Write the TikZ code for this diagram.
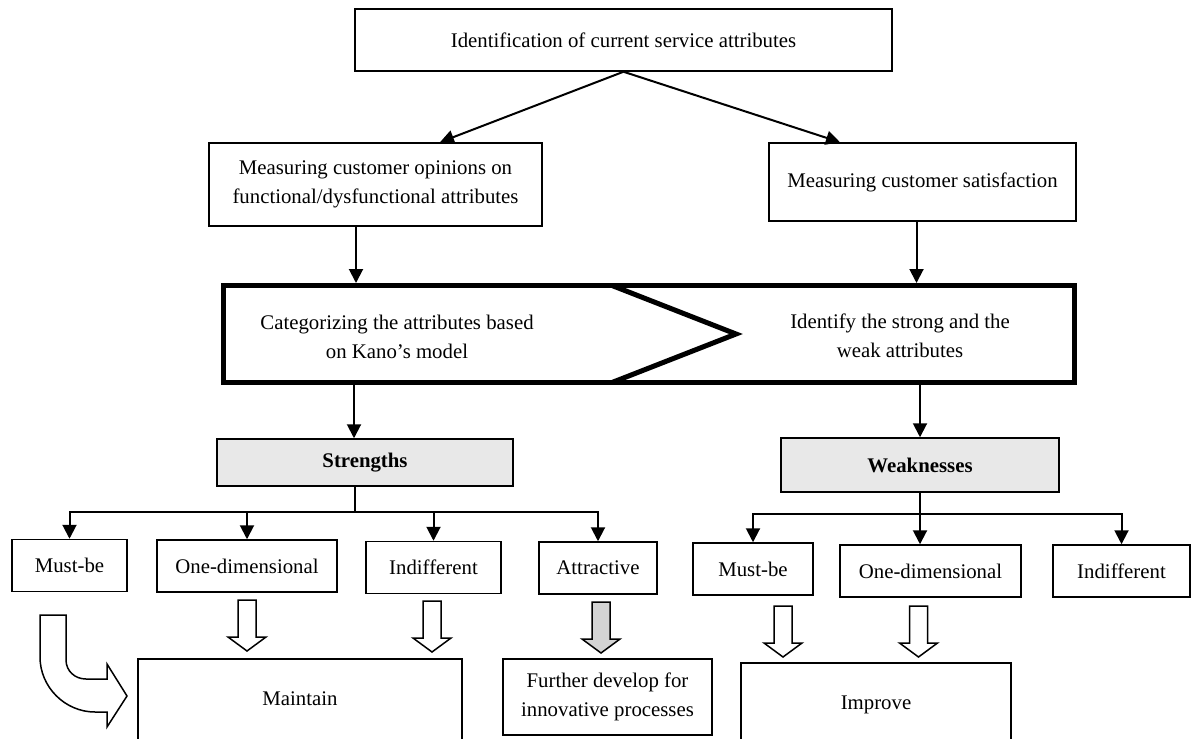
\documentclass[tikz,border=0pt]{standalone}
\usepackage{fontspec}
\setmainfont{Liberation Serif}
\usepackage{tikz}
\usetikzlibrary{arrows.meta,calc}
\definecolor{boxgray}{RGB}{232,232,232}
\definecolor{arrgray}{RGB}{212,212,212}

\begin{document}
\begin{tikzpicture}[x=0.5pt,y=-0.5pt,
  font=\fontsize{10.4}{14.5}\selectfont,
  box/.style={draw,line width=0.75pt,align=center,inner sep=0pt},
  item/.style={box,minimum height=26pt},
  openbox/.style={box,minimum height=48pt,text depth=8pt},
  graybox/.style={box,fill=boxgray,font=\fontsize{10.4}{14.5}\selectfont\bfseries},
  arr/.style={line width=1pt,-{Triangle[length=7pt,width=7pt]}},
  downarrow/.pic={\draw[line width=0.75pt,pic actions] (-9,0) -- (9,0) -- (9,37) -- (19,37) -- (0,51) -- (-19,37) -- (-9,37) -- cycle;}]
\useasboundingbox (0,0) rectangle (1192,738);
\clip (0,0) rectangle (1192,738);

\node[box,minimum width=268.5pt,minimum height=31pt] (top) at (623.5,40) {Identification of current service attributes};
\node[box,minimum width=166.5pt,minimum height=41.5pt] (opin) at (375.5,184.5) {Measuring customer opinions on\\functional/dysfunctional attributes};
\node[box,minimum width=153.5pt,minimum height=39pt] (satis) at (922.5,182) {Measuring customer satisfaction};
\draw[arr] (top.south) -- ($(opin.north)+(64.5,0)$);
\draw[arr] (top.south) -- ($(satis.north)+(-82.5,0)$);

\node[draw,line width=2.5pt,minimum width=425.5pt,minimum height=48.5pt,inner sep=0pt] (frame) at (649,334) {};
\draw[line width=2.5pt] (612,285.5) -- (736,334) -- (612,382.5);
\node[align=center] (cat) at (397,337) {Categorizing the attributes based\\on Kano’s model};
\node[align=center] (ident) at (900,336) {Identify the strong and the\\weak attributes};
\draw[arr] ([xshift=-9.75pt]opin.south) -- ([xshift=-9.75pt]opin.south |- frame.north);
\draw[arr] ([xshift=-3pt]satis.south) -- ([xshift=-3pt]satis.south |- frame.north);

\node[graybox,minimum width=148pt,minimum height=23.5pt] (str) at (365,462.5) {Strengths};
\node[graybox,minimum width=139pt,minimum height=27pt] (weak) at (920,465) {Weaknesses};
\draw[arr] ([xshift=-5.5pt]str.north |- frame.south) -- ([xshift=-5.5pt]str.north);
\draw[arr] (weak.north |- frame.south) -- (weak.north);

\node[item,minimum width=57.5pt] (smust) at (69.5,565.5) {Must-be};
\node[item,minimum width=90pt] (sone) at (247,566) {One-dimensional};
\node[item,minimum width=67.5pt] (sind) at (433.5,567.5) {Indifferent};
\node[item,minimum width=59pt] (sattr) at (598,568) {Attractive};
\node[item,minimum width=60pt] (wmust) at (753,569) {Must-be};
\node[item,minimum width=90.5pt] (wone) at (930.5,571) {One-dimensional};
\node[item,minimum width=68.5pt] (wind) at (1121.5,571) {Indifferent};

\draw[line width=1pt] ([xshift=-5pt]str.south) -- ++(0,25) coordinate (sbus);
\foreach \n in {smust,sone,sind,sattr}
  \draw[arr] (sbus) -| (\n.north);
\draw[line width=1pt] (weak.south) -- ++(0,21) coordinate (wbus);
\draw[arr] (wbus) -| (wmust.north);
\draw[arr] (wbus) -- (wbus |- wone.north);
\draw[arr] (wbus) -| (wind.north);

\node[openbox,minimum width=162pt] (maint) at (300,707) {Maintain};
\node[box,minimum width=104.5pt,minimum height=38pt] (dev) at (607.5,697) {Further develop for\\innovative processes};
\node[openbox,minimum width=135pt] (impr) at (876,711) {Improve};

\pic[fill=white] at (247,600) {downarrow};
\pic[fill=white] at (432,601) {downarrow};
\pic[fill=arrgray] at (601,602) {downarrow};
\pic[fill=white] at (783,606) {downarrow};
\pic[fill=white] at (918.5,606) {downarrow};
\draw[line width=0.75pt,fill=white] (40,615) -- (66,615) -- (66,660)
  .. controls (66,671) and (75,679) .. (86,679) -- (107,679) -- (107,664)
  -- (127,696) -- (107,727) -- (107,712) -- (95,712)
  .. controls (65,712) and (40,687) .. (40,657) -- cycle;
\end{tikzpicture}
\end{document}
